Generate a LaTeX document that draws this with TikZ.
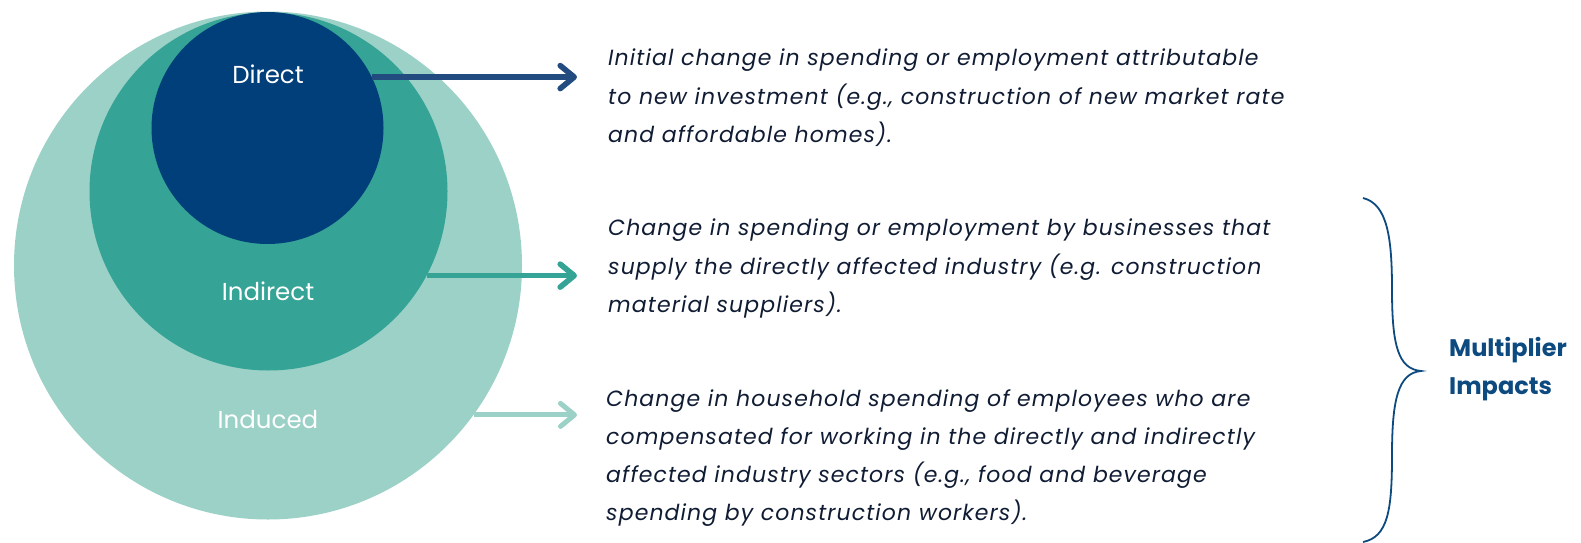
\documentclass[tikz,border=0pt]{standalone}
\usepackage{fontspec}
\setmainfont{Poppins}
\newfontfamily\descfont{Poppins}[LetterSpace=5]
\usetikzlibrary{arrows.meta}

\definecolor{ringlight}{HTML}{9BD1C7}
\definecolor{ringmid}{HTML}{35A395}
\definecolor{ringdark}{HTML}{013F7A}
\definecolor{arrowdark}{HTML}{224B7F}
\definecolor{bodyink}{HTML}{101C33}
\definecolor{bracecol}{HTML}{0D4A80}

\begin{document}
\begin{tikzpicture}[x=1pt,y=-1pt,
  ring/.style={circle,inner sep=0pt,minimum size=#1},
  ringlabel/.style={text=white,font=\fontsize{24.5}{28}\selectfont},
  desc/.style={anchor=north west,inner sep=0pt,align=left,text=bodyink,
    font=\descfont\fontsize{22}{38.3}\selectfont\itshape},
  link/.style={line width=#1,-{Straight Barb[length=14pt,width=23pt,round]}},
]
\useasboundingbox (0,0) rectangle (1581,543);

% nested circles, all touching at the top
\node[ring=508pt,fill=ringlight] (induced) at (268,265.5) {};
\node[ring=358pt,fill=ringmid] (indirect) at (268.5,191.5) {};
\node[ring=232pt,fill=ringdark] (direct) at (267.5,128) {};

\node[ringlabel] (ldirect) at (268,74.6) {Direct};
\node[ringlabel] (lindirect) at (268,291) {Indirect};
\node[ringlabel] (linduced) at (268,420) {Induced};

% descriptions
\node[desc] (t1) at (608,49) {Initial change in spending or employment attributable\\
to new investment (e.g., construction of new market rate\\
and affordable homes).};
\node[desc] (t2) at (608,219) {Change in spending or employment by businesses that\\
supply the directly affected industry (e.g. construction\\
material suppliers).};
\node[desc] (t3) at (606,389) {Change in household spending of employees who are\\
compensated for working in the directly and indirectly\\
affected industry sectors (e.g., food and beverage\\
spending by construction workers).};

% arrow ends
\coordinate (e1) at (577,75.5);
\coordinate (e2) at (577,275.5);
\coordinate (e3) at (577,416.5);

\draw[link=5.6pt,arrowdark] (direct.26.9) -- (direct.26.9 -| e1);
\draw[link=5.6pt,ringmid] (indirect.-28) -- (indirect.-28 -| e2);
\draw[link=5pt,ringlight] (induced.-36.5) -- (induced.-36.5 -| e3);

% brace grouping the indirect and induced effects
\coordinate (btop) at (1363,198);
\coordinate (btip) at (1421,371);
\coordinate (bbot) at (1363,542);
\draw[bracecol,line width=1.8pt]
  (btop) .. controls (1388,204) and (1392,240) .. (1392,290)
  .. controls (1392,345) and (1398,369) .. (btip)
  .. controls (1398,373) and (1392,400) .. (1392,455)
  .. controls (1392,510) and (1388,537) .. (bbot);

\node[anchor=west,inner sep=0pt,align=left,text=bracecol,
  font=\fontsize{24}{38}\selectfont\bfseries] (mult) at (1449,369)
  {Multiplier\\Impacts};
\end{tikzpicture}
\end{document}
